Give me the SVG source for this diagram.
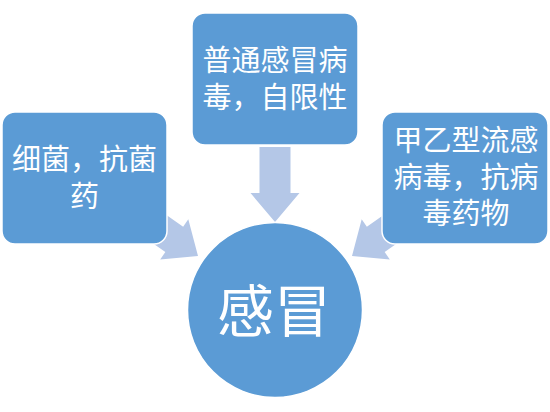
<svg xmlns="http://www.w3.org/2000/svg" width="550" height="412" viewBox="0 0 550 412">
<defs>
<style>
.box{fill:#5B9BD5;stroke:#FFFFFF;stroke-width:1.5}
.arrow{fill:#B4C7E7;stroke:none}
.t{fill:#FFFFFF;font-family:"Liberation Sans","Noto Sans CJK SC",sans-serif;font-size:29px;text-anchor:middle}
.big{font-size:57px}
</style>
<polygon id="arr" points="0,0 -29,-24.5 -29,-15.5 -75,-15.5 -75,15.5 -29,15.5 -29,24.5"/>
</defs>
<rect width="550" height="412" fill="#FFFFFF"/>
<g id="connectors">
<use href="#arr" class="arrow" transform="translate(275,222) rotate(90)"/>
<use href="#arr" class="arrow" transform="translate(198,256) rotate(35)"/>
<use href="#arr" class="arrow" transform="translate(352,256) rotate(145)"/>
</g>
<g id="node-left">
<rect class="box" x="2" y="112" width="165" height="132" rx="13"/>
<text class="t"><tspan x="84.5" y="170">细菌，抗菌</tspan><tspan x="84.5" y="207">药</tspan></text>
</g>
<g id="node-top">
<rect class="box" x="192" y="13" width="166" height="132" rx="13"/>
<text class="t"><tspan x="275" y="71">普通感冒病</tspan><tspan x="275" y="108">毒，自限性</tspan></text>
</g>
<g id="node-right">
<rect class="box" x="382" y="112" width="166" height="132" rx="13"/>
<text class="t"><tspan x="466" y="151">甲乙型流感</tspan><tspan x="466" y="188">病毒，抗病</tspan><tspan x="466" y="224">毒药物</tspan></text>
</g>
<g id="node-center">
<circle class="box" cx="275" cy="310" r="87.5"/>
<text class="t big" x="274" y="332">感冒</text>
</g>
</svg>
